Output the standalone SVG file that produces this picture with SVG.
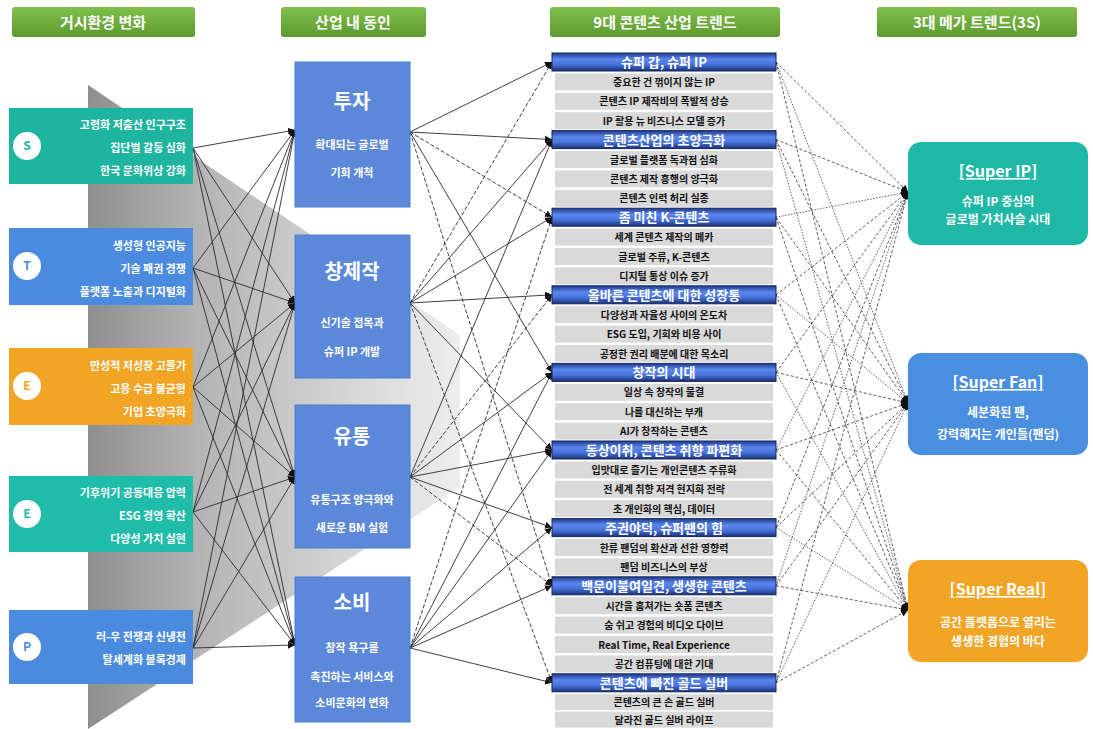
<svg xmlns="http://www.w3.org/2000/svg" width="1093" height="729" viewBox="0 0 1093 729">
<defs>
<linearGradient id="funnel" x1="88" y1="0" x2="460" y2="0" gradientUnits="userSpaceOnUse">
<stop offset="0" stop-color="#8e8e8e"/><stop offset="0.3" stop-color="#b4b4b4"/><stop offset="1" stop-color="#eeeeee"/>
</linearGradient>
<linearGradient id="green" x1="0" y1="0" x2="0" y2="1">
<stop offset="0" stop-color="#7fbf4a"/><stop offset="1" stop-color="#5c9a30"/>
</linearGradient>
<linearGradient id="bar" x1="0" y1="0" x2="0" y2="1">
<stop offset="0" stop-color="#1e3a8a"/><stop offset="0.35" stop-color="#5a86ee"/><stop offset="0.65" stop-color="#4873dc"/><stop offset="1" stop-color="#1a3176"/>
</linearGradient>
<marker id="ah" viewBox="0 0 8 8" refX="8" refY="4" markerWidth="7" markerHeight="7" markerUnits="userSpaceOnUse" orient="auto">
<path d="M0,0 L8,4 L0,8 Z" fill="#111"/>
</marker>
</defs>
<style>
text{font-family:"Noto Sans CJK KR","Noto Sans",sans-serif;font-weight:bold}
.hd{fill:url(#green)}
.hdt{fill:#fff;font-size:15px;text-anchor:middle}
.lt{fill:#fff;font-size:11px;text-anchor:end}
.circ{fill:#fff}
.cl{font-size:12px;text-anchor:middle}
.mb{fill:#5b88d8;stroke:#4f7bc9;stroke-width:1}
.mt{fill:#fff;font-size:20px;text-anchor:middle}
.ms{fill:#fff;font-size:11px;text-anchor:middle}
.bar{fill:url(#bar);stroke:#16275c;stroke-width:1}
.bt{fill:#fff;font-size:13px;text-anchor:middle}
.row{fill:#d9d9d9}
.rt{fill:#111;font-size:10px;text-anchor:middle}
.rtt{fill:#fff;font-size:16px;text-anchor:middle;text-decoration:underline}
.rs{fill:#fff;font-size:12px;text-anchor:middle}
.c1 line,.c2 line{stroke:#2a2a2a;stroke-width:0.9;marker-end:url(#ah)}
.c2 .d{stroke-dasharray:4 2}
.c3 line{stroke:#333;stroke-width:0.8;stroke-dasharray:3 2;marker-end:url(#ah)}
.c3 .e{stroke-dasharray:1.5 1.5}
</style>
<rect width="1093" height="729" fill="#fff"/>
<polygon points="88,85 460,335 460,487 88,729" fill="url(#funnel)"/>

<g id="headers">
<rect class="hd" x="12" y="7" width="183" height="30" rx="3"/><text class="hdt" x="103" y="28">거시환경 변화</text>
<rect class="hd" x="281" y="7" width="145" height="30" rx="3"/><text class="hdt" x="353" y="28">산업 내 동인</text>
<rect class="hd" x="550" y="7" width="230" height="30" rx="3"/><text class="hdt" x="665" y="28">9대 콘텐츠 산업 트렌드</text>
<rect class="hd" x="877" y="7" width="200" height="30" rx="3"/><text class="hdt" x="977" y="28">3대 메가 트렌드(3S)</text>
</g>

<g id="connectors">
<g class="c1">
<line x1="193" y1="148" x2="295" y2="130"/><line x1="193" y1="148" x2="295" y2="303"/><line x1="193" y1="148" x2="295" y2="477"/><line x1="193" y1="148" x2="295" y2="645"/>
<line x1="193" y1="268" x2="295" y2="130"/><line x1="193" y1="268" x2="295" y2="303"/><line x1="193" y1="268" x2="295" y2="477"/><line x1="193" y1="268" x2="295" y2="645"/>
<line x1="193" y1="387" x2="295" y2="130"/><line x1="193" y1="387" x2="295" y2="303"/><line x1="193" y1="387" x2="295" y2="477"/><line x1="193" y1="387" x2="295" y2="645"/>
<line x1="193" y1="512" x2="295" y2="130"/><line x1="193" y1="512" x2="295" y2="303"/><line x1="193" y1="512" x2="295" y2="477"/><line x1="193" y1="512" x2="295" y2="645"/>
<line x1="193" y1="648" x2="295" y2="130"/><line x1="193" y1="648" x2="295" y2="303"/><line x1="193" y1="648" x2="295" y2="477"/><line x1="193" y1="648" x2="295" y2="645"/>
</g>
<g class="c2">
<line x1="410" y1="132" x2="552" y2="62"/><line x1="410" y1="132" x2="552" y2="139.6"/><line class="d" x1="410" y1="132" x2="552" y2="217.2"/><line x1="410" y1="132" x2="552" y2="372.4"/><line class="d" x1="410" y1="132" x2="552" y2="585.8"/>
<line class="d" x1="410" y1="303" x2="552" y2="62"/><line x1="410" y1="303" x2="552" y2="139.6"/><line x1="410" y1="303" x2="552" y2="217.2"/><line x1="410" y1="303" x2="552" y2="294.8"/><line x1="410" y1="303" x2="552" y2="450"/><line class="d" x1="410" y1="303" x2="552" y2="682.8"/>
<line x1="410" y1="477" x2="552" y2="139.6"/><line class="d" x1="410" y1="477" x2="552" y2="294.8"/><line x1="410" y1="477" x2="552" y2="372.4"/><line x1="410" y1="477" x2="552" y2="450"/><line x1="410" y1="477" x2="552" y2="527.6"/><line class="d" x1="410" y1="477" x2="552" y2="585.8"/>
<line class="d" x1="410" y1="648" x2="552" y2="217.2"/><line x1="410" y1="648" x2="552" y2="372.4"/><line x1="410" y1="648" x2="552" y2="450"/><line x1="410" y1="648" x2="552" y2="527.6"/><line x1="410" y1="648" x2="552" y2="585.8"/><line x1="410" y1="648" x2="552" y2="682.8"/>
</g>
<g class="c3">
<line x1="776" y1="62" x2="908" y2="192"/><line class="e" x1="776" y1="62" x2="908" y2="403"/><line x1="776" y1="62" x2="908" y2="610"/>
<line x1="776" y1="139.6" x2="908" y2="192"/><line x1="776" y1="139.6" x2="908" y2="403"/><line class="e" x1="776" y1="139.6" x2="908" y2="610"/>
<line class="e" x1="776" y1="217.2" x2="908" y2="192"/><line x1="776" y1="217.2" x2="908" y2="403"/><line x1="776" y1="217.2" x2="908" y2="610"/>
<line x1="776" y1="294.8" x2="908" y2="192"/><line class="e" x1="776" y1="294.8" x2="908" y2="403"/><line x1="776" y1="294.8" x2="908" y2="610"/>
<line x1="776" y1="372.4" x2="908" y2="192"/><line x1="776" y1="372.4" x2="908" y2="403"/><line class="e" x1="776" y1="372.4" x2="908" y2="610"/>
<line class="e" x1="776" y1="450" x2="908" y2="192"/><line x1="776" y1="450" x2="908" y2="403"/><line x1="776" y1="450" x2="908" y2="610"/>
<line x1="776" y1="527.6" x2="908" y2="192"/><line x1="776" y1="527.6" x2="908" y2="403"/><line class="e" x1="776" y1="527.6" x2="908" y2="610"/>
<line class="e" x1="776" y1="585.8" x2="908" y2="192"/><line x1="776" y1="585.8" x2="908" y2="403"/><line x1="776" y1="585.8" x2="908" y2="610"/>
<line x1="776" y1="682.8" x2="908" y2="192"/><line class="e" x1="776" y1="682.8" x2="908" y2="403"/><line x1="776" y1="682.8" x2="908" y2="610"/>
</g>
</g>

<g id="macro-S">
<rect x="9" y="108" width="184" height="76" fill="#1db5a0"/>
<circle class="circ" cx="27" cy="146" r="14"/><text class="cl" x="27" y="150" fill="#1db5a0">S</text>
<text class="lt" x="186" y="129">고령화 저출산 인구구조</text>
<text class="lt" x="186" y="152">집단별 갈등 심화</text>
<text class="lt" x="186" y="175">한국 문화위상 강화</text>
</g>
<g id="macro-T">
<rect x="9" y="228" width="184" height="77" fill="#4a8be0"/>
<circle class="circ" cx="27" cy="266" r="14"/><text class="cl" x="27" y="270" fill="#4a8be0">T</text>
<text class="lt" x="186" y="250">생성형 인공지능</text>
<text class="lt" x="186" y="273">기술 패권 경쟁</text>
<text class="lt" x="186" y="296">플랫폼 노출과 디지털화</text>
</g>
<g id="macro-E1">
<rect x="9" y="348" width="184" height="77" fill="#f2a424"/>
<circle class="circ" cx="27" cy="386" r="14"/><text class="cl" x="27" y="390" fill="#f2a424">E</text>
<text class="lt" x="186" y="370">만성적 저성장 고물가</text>
<text class="lt" x="186" y="393">고용 수급 불균형</text>
<text class="lt" x="186" y="416">기업 초양극화</text>
</g>
<g id="macro-E2">
<rect x="9" y="476" width="184" height="76" fill="#1fbcaa"/>
<circle class="circ" cx="27" cy="514" r="14"/><text class="cl" x="27" y="518" fill="#1fbcaa">E</text>
<text class="lt" x="186" y="497">기후위기 공동대응 압력</text>
<text class="lt" x="186" y="520">ESG 경영 확산</text>
<text class="lt" x="186" y="543">다양성 가치 실현</text>
</g>
<g id="macro-P">
<rect x="9" y="610" width="184" height="74" fill="#4a8be0"/>
<circle class="circ" cx="27" cy="647" r="14"/><text class="cl" x="27" y="651" fill="#4a8be0">P</text>
<text class="lt" x="186" y="641">러-우 전쟁과 신냉전</text>
<text class="lt" x="186" y="664">탈세계화 블록경제</text>
</g>

<g id="driver-invest">
<rect class="mb" x="295" y="62" width="115" height="145"/>
<text class="mt" x="352" y="109">투자</text>
<text class="ms" x="352" y="149">확대되는 글로벌</text>
<text class="ms" x="352" y="177">기회 개척</text>
</g>
<g id="driver-create">
<rect class="mb" x="295" y="235" width="115" height="143"/>
<text class="mt" x="352" y="279">창제작</text>
<text class="ms" x="352" y="327">신기술 접목과</text>
<text class="ms" x="352" y="356">슈퍼 IP 개발</text>
</g>
<g id="driver-dist">
<rect class="mb" x="295" y="405" width="115" height="143"/>
<text class="mt" x="352" y="444">유통</text>
<text class="ms" x="352" y="504">유통구조 양극화와</text>
<text class="ms" x="352" y="532">새로운 BM 실험</text>
</g>
<g id="driver-consume">
<rect class="mb" x="295" y="577" width="115" height="145"/>
<text class="mt" x="352" y="610">소비</text>
<text class="ms" x="352" y="652">창작 욕구를</text>
<text class="ms" x="352" y="681">촉진하는 서비스와</text>
<text class="ms" x="352" y="707">소비문화의 변화</text>
</g>

<g id="trend1">
<rect class="bar" x="552" y="53" width="224" height="18"/><text class="bt" x="664" y="67">슈퍼 갑, 슈퍼 IP</text>
<rect class="row" x="555" y="73.4" width="218" height="17"/><text class="rt" x="664" y="85.9">중요한 건 꺾이지 않는 IP</text>
<rect class="row" x="555" y="92.8" width="218" height="17"/><text class="rt" x="664" y="105.3">콘텐츠 IP 제작비의 폭발적 상승</text>
<rect class="row" x="555" y="112.2" width="218" height="17"/><text class="rt" x="664" y="124.7">IP 활용 뉴 비즈니스 모델 증가</text>
</g>
<g id="trend2">
<rect class="bar" x="552" y="130.6" width="224" height="18"/><text class="bt" x="664" y="144.6">콘텐츠산업의 초양극화</text>
<rect class="row" x="555" y="151" width="218" height="17"/><text class="rt" x="664" y="163.5">글로벌 플랫폼 독과점 심화</text>
<rect class="row" x="555" y="170.4" width="218" height="17"/><text class="rt" x="664" y="182.9">콘텐츠 제작 흥행의 양극화</text>
<rect class="row" x="555" y="189.8" width="218" height="17"/><text class="rt" x="664" y="202.3">콘텐츠 인력 허리 실종</text>
</g>
<g id="trend3">
<rect class="bar" x="552" y="208.2" width="224" height="18"/><text class="bt" x="664" y="222.2">좀 미친 K-콘텐츠</text>
<rect class="row" x="555" y="228.6" width="218" height="17"/><text class="rt" x="664" y="241.1">세계 콘텐츠 제작의 메카</text>
<rect class="row" x="555" y="248" width="218" height="17"/><text class="rt" x="664" y="260.5">글로벌 주류, K-콘텐츠</text>
<rect class="row" x="555" y="267.4" width="218" height="17"/><text class="rt" x="664" y="279.9">디지털 통상 이슈 증가</text>
</g>
<g id="trend4">
<rect class="bar" x="552" y="285.8" width="224" height="18"/><text class="bt" x="664" y="299.8">올바른 콘텐츠에 대한 성장통</text>
<rect class="row" x="555" y="306.2" width="218" height="17"/><text class="rt" x="664" y="318.7">다양성과 자율성 사이의 온도차</text>
<rect class="row" x="555" y="325.6" width="218" height="17"/><text class="rt" x="664" y="338.1">ESG 도입, 기회와 비용 사이</text>
<rect class="row" x="555" y="345" width="218" height="17"/><text class="rt" x="664" y="357.5">공정한 권리 배분에 대한 목소리</text>
</g>
<g id="trend5">
<rect class="bar" x="552" y="363.4" width="224" height="18"/><text class="bt" x="664" y="377.4">창작의 시대</text>
<rect class="row" x="555" y="383.8" width="218" height="17"/><text class="rt" x="664" y="396.3">일상 속 창작의 물결</text>
<rect class="row" x="555" y="403.2" width="218" height="17"/><text class="rt" x="664" y="415.7">나를 대신하는 부캐</text>
<rect class="row" x="555" y="422.6" width="218" height="17"/><text class="rt" x="664" y="435.1">AI가 창작하는 콘텐츠</text>
</g>
<g id="trend6">
<rect class="bar" x="552" y="441" width="224" height="18"/><text class="bt" x="664" y="455">동상이취, 콘텐츠 취향 파편화</text>
<rect class="row" x="555" y="461.4" width="218" height="17"/><text class="rt" x="664" y="473.9">입맛대로 즐기는 개인콘텐츠 주류화</text>
<rect class="row" x="555" y="480.8" width="218" height="17"/><text class="rt" x="664" y="493.3">전 세계 취향 저격 현지화 전략</text>
<rect class="row" x="555" y="500.2" width="218" height="17"/><text class="rt" x="664" y="512.7">초 개인화의 핵심, 데이터</text>
</g>
<g id="trend7">
<rect class="bar" x="552" y="518.6" width="224" height="18"/><text class="bt" x="664" y="532.6">주권야덕, 슈퍼팬의 힘</text>
<rect class="row" x="555" y="539" width="218" height="17"/><text class="rt" x="664" y="551.5">한류 팬덤의 확산과 선한 영향력</text>
<rect class="row" x="555" y="558.4" width="218" height="17"/><text class="rt" x="664" y="570.9">팬덤 비즈니스의 부상</text>
</g>
<g id="trend8">
<rect class="bar" x="552" y="576.8" width="224" height="18"/><text class="bt" x="664" y="590.8">백문이불여일견, 생생한 콘텐츠</text>
<rect class="row" x="555" y="597.2" width="218" height="17"/><text class="rt" x="664" y="609.7">시간을 훔쳐가는 숏폼 콘텐츠</text>
<rect class="row" x="555" y="616.6" width="218" height="17"/><text class="rt" x="664" y="629.1">숨 쉬고 경험의 비디오 다이브</text>
<rect class="row" x="555" y="636" width="218" height="17"/><text class="rt" x="664" y="648.5">Real Time, Real Experience</text>
<rect class="row" x="555" y="655.4" width="218" height="17"/><text class="rt" x="664" y="667.9">공간 컴퓨팅에 대한 기대</text>
</g>
<g id="trend9">
<rect class="bar" x="552" y="673.8" width="224" height="18"/><text class="bt" x="664" y="687.8">콘텐츠에 빠진 골드 실버</text>
<rect class="row" x="555" y="694.2" width="218" height="16"/><text class="rt" x="664" y="706.2">콘텐츠의 큰 손 골드 실버</text>
<rect class="row" x="555" y="711.6" width="218" height="16"/><text class="rt" x="664" y="723.6">달라진 골드 실버 라이프</text>
</g>

<g id="mega-ip">
<rect x="908" y="142" width="180" height="103" rx="13" fill="#1fb8a6"/>
<text class="rtt" x="998" y="177">[Super IP]</text>
<text class="rs" x="998" y="206">슈퍼 IP 중심의</text>
<text class="rs" x="998" y="224">글로벌 가치사슬 시대</text>
</g>
<g id="mega-fan">
<rect x="908" y="353" width="180" height="102" rx="13" fill="#4a8ee0"/>
<text class="rtt" x="998" y="388">[Super Fan]</text>
<text class="rs" x="998" y="417">세분화된 팬,</text>
<text class="rs" x="998" y="439">강력해지는 개인들(팬덤)</text>
</g>
<g id="mega-real">
<rect x="908" y="560" width="180" height="102" rx="13" fill="#f2a424"/>
<text class="rtt" x="998" y="595">[Super Real]</text>
<text class="rs" x="998" y="627">공간 플랫폼으로 열리는</text>
<text class="rs" x="998" y="646">생생한 경험의 바다</text>
</g>
</svg>
